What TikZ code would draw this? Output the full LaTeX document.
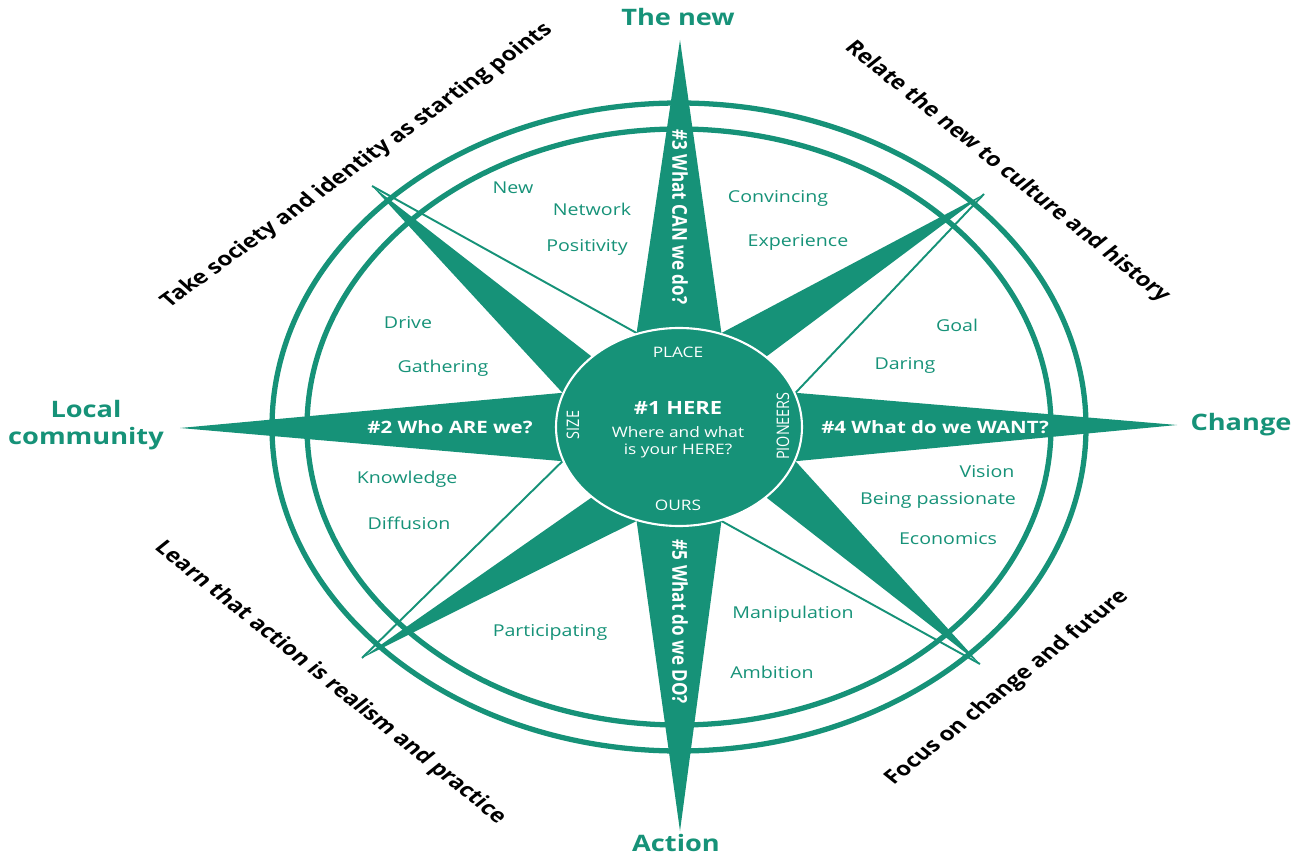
\documentclass[tikz,border=0pt]{standalone}
\usepackage{fontspec}
\setmainfont{Open Sans}
\definecolor{compass}{RGB}{22,146,120}

\tikzset{
  wide/.style={xscale=1.2},
  word/.style={wide,text=compass,font=\fontsize{9.3}{11}\selectfont},
  ask/.style={wide,text=white,font=\fontsize{9.7}{11}\selectfont\bfseries},
  pole/.style={wide,text=compass,font=\fontsize{12.9}{15}\selectfont\bfseries,align=center},
  motto/.style={xscale=1.25,text=black,font=\fontsize{11}{12}\selectfont\bfseries},
  hub/.style={wide,text=white,font=\fontsize{8.2}{10}\selectfont}
}

\begin{document}
\begin{tikzpicture}[x=0.02cm,y=-0.02cm]
\useasboundingbox (0,0) rectangle (1300,857);

% base points on the hub
\foreach \i/\a in {0/0,1/90,2/180,3/270}
{
\coordinate (l\i) at ({679+124*cos(\a+20)},{427-100*sin(\a+20)});
\coordinate (r\i) at ({679+124*cos(\a-20)},{427-100*sin(\a-20)});
\coordinate (m\i) at ({679+124*cos(\a+45)},{427-100*sin(\a+45)});
}
\coordinate (c) at (679,427);

% tips
\coordinate (t0) at (1177,425);
\coordinate (t1) at (680,40);
\coordinate (t2) at (180,428);
\coordinate (t3) at (680,831);
\coordinate (d0) at (984,194);
\coordinate (d1) at (372,186);
\coordinate (d2) at (362,658);
\coordinate (d3) at (980,664);

% rings
\draw[compass,line width=3pt] (c) ellipse (407 and 324);
\draw[compass,line width=3pt] (c) ellipse (372 and 298);

% points
\foreach \i in {0,1,2,3}
{
\fill[compass] (t\i)--(l\i)--(c)--(r\i)--cycle;
}
\fill[compass] (d0)--(m0)--(r1)--cycle;
\fill[compass] (d1)--(m1)--(r2)--cycle;
\fill[compass] (d2)--(m2)--(r3)--cycle;
\fill[compass] (d3)--(m3)--(r0)--cycle;
\foreach \i in {0,1,2,3}
{
\draw[compass,line width=1.1pt] (d\i)--(l\i);
}

% hub
\draw[white,fill=compass,line width=1.2pt] (c) ellipse (123 and 99);
\node[hub] (place) at (678,352) {PLACE};
\node[hub,font=\fontsize{10.4}{12}\selectfont\bfseries] (here) at (678,408) {\#1 HERE};
\node[hub] (where) at (678,432) {Where and what};
\node[hub] (your) at (678,451) {is your HERE?};
\node[hub] (ours) at (678,505) {OURS};
\node[hub,rotate=90] (size) at (573,425) {SIZE};
\node[hub,rotate=90] (pioneers) at (783,426) {PIONEERS};

% questions
\node[ask] (who) at (450,427) {\#2 Who ARE we?};
\node[ask] (want) at (935,427) {\#4 What do we WANT?};
\node[ask,rotate=-90] (can) at (680,217) {\#3 What CAN we do?};
\node[ask,rotate=-90] (do) at (680,622) {\#5 What do we DO?};

% poles
\node[pole] (new) at (678,17) {The new};
\node[pole] (action) at (676,843) {Action};
\node[pole] (local) at (86,425) {Local\\community};
\node[pole] (change) at (1241,425) {Change};

% mottos
\node[motto,rotate=42] (society) at (357,166) {Take society and identity as starting points};
\node[motto,rotate=-45] (culture) at (1007,172) {Relate the new to culture and history};
\node[motto,rotate=-45] (realism) at (330,683) {Learn that action is realism and practice};
\node[motto,rotate=45] (future) at (1007,688) {Focus on change and future};

% words
\node[word] (w1) at (513,188) {New};
\node[word] (w2) at (592,209) {Network};
\node[word] (w3) at (587,247) {Positivity};
\node[word] (w4) at (778,198) {Convincing};
\node[word] (w5) at (798,242) {Experience};
\node[word] (w6) at (408,323) {Drive};
\node[word] (w7) at (443,368) {Gathering};
\node[word] (w8) at (957,325) {Goal};
\node[word] (w9) at (905,365) {Daring};
\node[word] (w10) at (407,479) {Knowledge};
\node[word] (w11) at (409,523) {Diffusion};
\node[word] (w12) at (987,472) {Vision};
\node[word] (w13) at (938,500) {Being passionate};
\node[word] (w14) at (948,539) {Economics};
\node[word] (w15) at (550,632) {Participating};
\node[word] (w16) at (793,614) {Manipulation};
\node[word] (w17) at (772,672) {Ambition};
\end{tikzpicture}
\end{document}
